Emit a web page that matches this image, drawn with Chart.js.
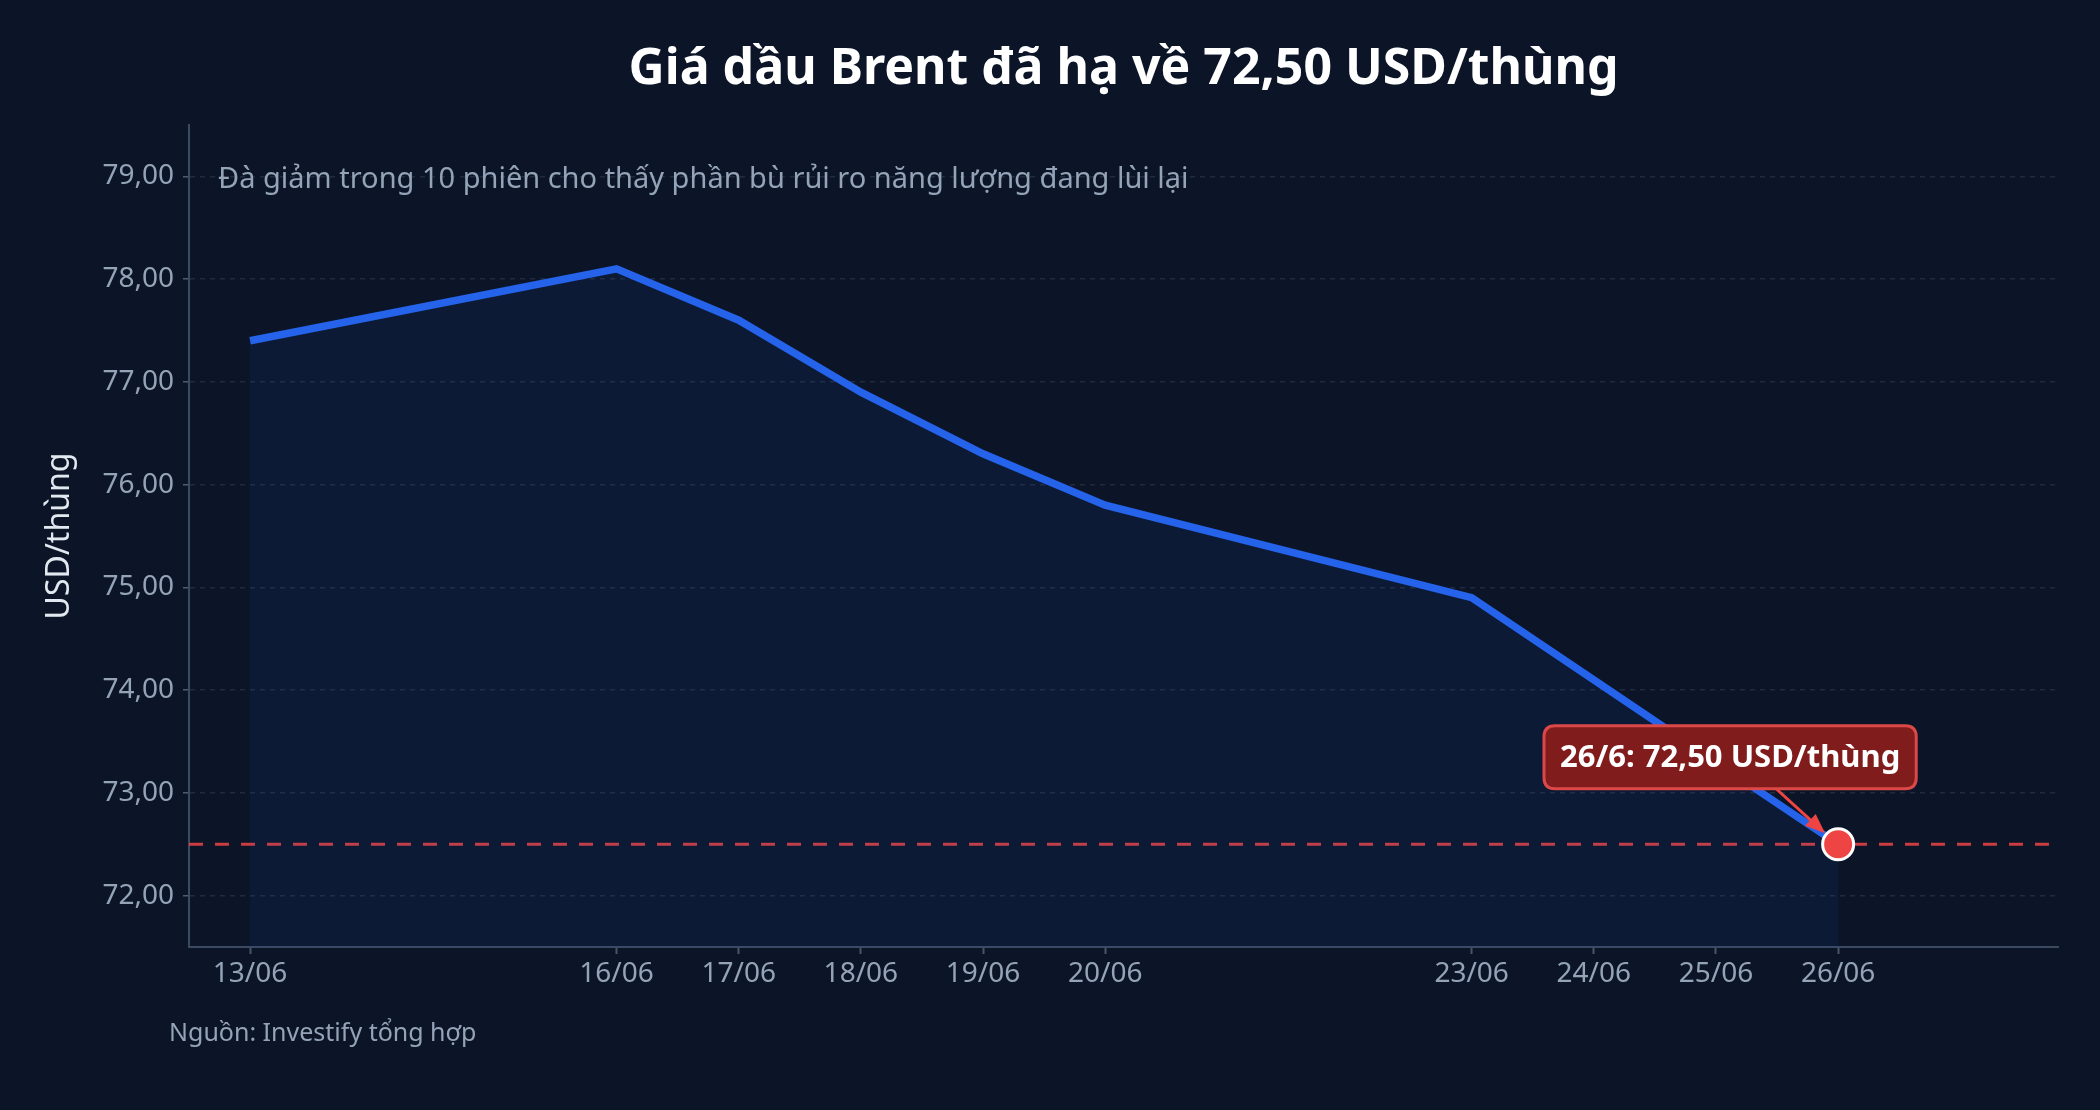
<!DOCTYPE html>
<html lang="vi">
<head>
<meta charset="utf-8">
<title>Giá dầu Brent</title>
<script src="https://cdn.jsdelivr.net/npm/chart.js@4.4.1/dist/chart.umd.min.js"></script>
<style>
  html, body { margin: 0; padding: 0; background: #0b1527; }
  #wrap { width: 2100px; height: 1110px; position: relative; }
</style>
</head>
<body>
<div id="wrap"><canvas id="chart"></canvas></div>
<script>
// ngày giao dịch (ngày trong tháng 6) và giá đóng cửa
const days = [13, 16, 17, 18, 19, 20, 23, 24, 25, 26];
const dateLabels = ['13/06', '16/06', '17/06', '18/06', '19/06', '20/06', '23/06', '24/06', '25/06', '26/06'];
const prices = [77.4, 78.1, 77.6, 76.9, 76.3, 75.8, 74.9, 74.1, 73.3, 72.5];
const yTicks = [72, 73, 74, 75, 76, 77, 78, 79];
const refPrice = 72.5;

const titleText = 'Giá dầu Brent đã hạ về 72,50 USD/thùng';
const subtitleText = 'Đà giảm trong 10 phiên cho thấy phần bù rủi ro năng lượng đang lùi lại';
const sourceText = 'Nguồn: Investify tổng hợp';
const calloutText = '26/6: 72,50 USD/thùng';

const FONT = '"Noto Sans", "Open Sans", sans-serif';
const fmt = v => v.toFixed(2).replace('.', ',');
const last = prices.length - 1;

function roundRect(ctx, x, y, w, h, r) {
  ctx.beginPath();
  ctx.moveTo(x + r, y);
  ctx.lineTo(x + w - r, y);
  ctx.quadraticCurveTo(x + w, y, x + w, y + r);
  ctx.lineTo(x + w, y + h - r);
  ctx.quadraticCurveTo(x + w, y + h, x + w - r, y + h);
  ctx.lineTo(x + r, y + h);
  ctx.quadraticCurveTo(x, y + h, x, y + h - r);
  ctx.lineTo(x, y + r);
  ctx.quadraticCurveTo(x, y, x + r, y);
  ctx.closePath();
}

const decor = {
  id: 'decor',
  beforeDraw(chart) {
    const ctx = chart.ctx;
    ctx.save();
    ctx.fillStyle = '#0b1527';
    ctx.fillRect(0, 0, chart.width, chart.height);
    ctx.restore();
  },
  beforeDatasetsDraw(chart) {
    // đường tham chiếu 72,50
    const {ctx, chartArea, scales} = chart;
    const y = scales.y.getPixelForValue(refPrice);
    ctx.save();
    ctx.strokeStyle = 'rgba(239, 68, 68, 0.85)';
    ctx.lineWidth = 3;
    ctx.setLineDash([14, 12]);
    ctx.beginPath();
    ctx.moveTo(chartArea.left, y);
    ctx.lineTo(chartArea.right, y);
    ctx.stroke();
    ctx.restore();
  },
  afterDatasetsDraw(chart) {
    const {ctx, scales} = chart;
    const px = scales.x.getPixelForValue(days[last]);
    const py = scales.y.getPixelForValue(prices[last]);

    // chú thích
    ctx.save();
    ctx.font = 'bold 31px ' + FONT;
    const tw = ctx.measureText(calloutText).width;
    const bw = tw + 32, bh = 63;
    const cx = px - 108, cy = py - 87;
    const bx = cx - bw / 2, by = cy - bh / 2;

    // mũi tên
    const ax0 = px - 62, ay0 = by + bh;
    const ax1 = px - 13, ay1 = py - 11;
    const ang = Math.atan2(ay1 - ay0, ax1 - ax0);
    ctx.strokeStyle = '#ef4444';
    ctx.fillStyle = '#ef4444';
    ctx.lineWidth = 3;
    ctx.beginPath();
    ctx.moveTo(ax0, ay0);
    ctx.lineTo(ax1 - 14 * Math.cos(ang), ay1 - 14 * Math.sin(ang));
    ctx.stroke();
    ctx.beginPath();
    ctx.moveTo(ax1, ay1);
    ctx.lineTo(ax1 - 20 * Math.cos(ang) + 8 * Math.sin(ang), ay1 - 20 * Math.sin(ang) - 8 * Math.cos(ang));
    ctx.lineTo(ax1 - 20 * Math.cos(ang) - 8 * Math.sin(ang), ay1 - 20 * Math.sin(ang) + 8 * Math.cos(ang));
    ctx.closePath();
    ctx.fill();

    roundRect(ctx, bx, by, bw, bh, 11);
    ctx.fillStyle = '#801c1c';
    ctx.fill();
    ctx.lineWidth = 3;
    ctx.strokeStyle = '#dc4848';
    ctx.stroke();
    ctx.fillStyle = '#ffffff';
    ctx.textAlign = 'center';
    ctx.textBaseline = 'middle';
    ctx.fillText(calloutText, cx, cy + 1);
    ctx.restore();
  },
  afterDraw(chart) {
    const {ctx, chartArea} = chart;
    ctx.save();
    // tiêu đề căn giữa vùng vẽ
    ctx.textAlign = 'center';
    ctx.textBaseline = 'middle';
    ctx.fillStyle = '#ffffff';
    ctx.font = 'bold 50px ' + FONT;
    ctx.fillText(titleText, (chartArea.left + chartArea.right) / 2, 70);

    ctx.textAlign = 'left';
    ctx.fillStyle = '#94a3b8';
    ctx.font = '29px ' + FONT;
    ctx.fillText(subtitleText, chartArea.left + 29, chartArea.top + 55);
    ctx.font = '25px ' + FONT;
    ctx.fillText(sourceText, 169, 1034);
    ctx.restore();
  }
};

new Chart(document.getElementById('chart'), {
  type: 'line',
  data: {
    datasets: [{
      label: 'Brent',
      data: days.map((d, i) => ({x: d, y: prices[i]})),
      borderColor: '#2563eb',
      borderWidth: 7.5,
      backgroundColor: 'rgba(37, 99, 235, 0.07)',
      fill: 'start',
      tension: 0,
      pointRadius: ctx => ctx.dataIndex === last ? 15.5 : 0,
      pointHoverRadius: ctx => ctx.dataIndex === last ? 15.5 : 0,
      pointBackgroundColor: '#ef4444',
      pointBorderColor: '#ffffff',
      pointBorderWidth: 3,
      clip: false
    }]
  },
  options: {
    responsive: true,
    maintainAspectRatio: false,
    animation: false,
    events: [],
    layout: { padding: { left: 0, right: 42, top: 125, bottom: 0 } },
    plugins: {
      legend: { display: false },
      tooltip: { enabled: false },
      title: { display: false }
    },
    scales: {
      x: {
        type: 'linear',
        min: 12.5,
        max: 27.8,
        afterBuildTicks: scale => { scale.ticks = days.map(v => ({value: v})); },
        afterFit: scale => { scale.height = 163; },
        ticks: {
          color: '#94a3b8',
          font: { family: FONT, size: 28 },
          padding: 3,
          maxRotation: 0,
          autoSkip: false,
          callback: v => dateLabels[days.indexOf(v)]
        },
        grid: {
          drawOnChartArea: false,
          drawTicks: true,
          tickLength: 7,
          tickColor: '#475569',
          tickWidth: 2
        },
        border: { display: true, color: '#3b4a60', width: 2 }
      },
      y: {
        min: 71.5,
        max: 79.5,
        afterBuildTicks: scale => { scale.ticks = yTicks.map(v => ({value: v})); },
        afterFit: scale => { scale.width = 189; },
        ticks: {
          color: '#94a3b8',
          font: { family: FONT, size: 28 },
          padding: 9,
          callback: v => fmt(v)
        },
        grid: {
          color: 'rgba(148, 163, 184, 0.16)',
          lineWidth: 1.5,
          drawTicks: true,
          tickLength: 6,
          tickColor: 'rgba(148, 163, 184, 0.5)',
          tickBorderDash: []
        },
        border: { display: true, color: '#3b4a60', width: 2, dash: [5, 5] },
        title: {
          display: true,
          text: 'USD/thùng',
          color: '#e2e8f0',
          font: { family: FONT, size: 32 },
          padding: { top: 41, bottom: 0 }
        }
      }
    }
  },
  plugins: [decor]
});
</script>
</body>
</html>
